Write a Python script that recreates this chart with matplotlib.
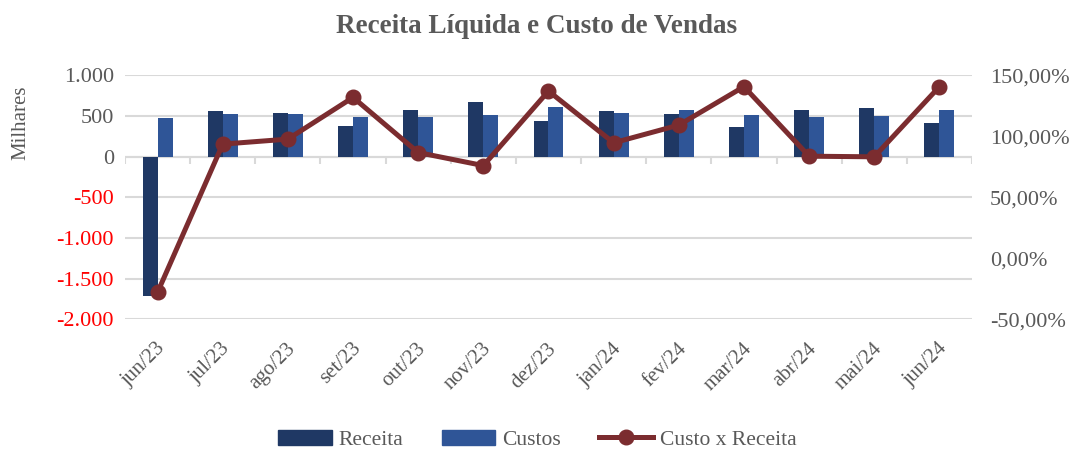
import numpy as np
import matplotlib.pyplot as plt
import matplotlib.transforms as mtransforms
from matplotlib.lines import Line2D
from matplotlib.patches import Patch

plt.rcParams['font.family'] = ['Liberation Serif', 'DejaVu Serif']

# dados (valores em milhares)
meses = ['jun/23', 'jul/23', 'ago/23', 'set/23', 'out/23', 'nov/23', 'dez/23',
         'jan/24', 'fev/24', 'mar/24', 'abr/24', 'mai/24', 'jun/24']
receita = [-1713, 561, 541, 373, 570, 672, 443, 557, 525, 369, 574, 598, 410]
custos = [471, 525, 529, 488, 492, 512, 607, 533, 574, 516, 488, 500, 574]
custo_x_receita = [-27.8, 93.6, 97.7, 131.9, 86.7, 76.0, 137.1, 94.7, 109.2, 140.7, 83.7, 83.2, 140.7]

cor_receita = '#1F3864'
cor_custos = '#2F5597'
cor_linha = '#7B2C2F'
cinza = '#595959'
grade = '#D9D9D9'

fig = plt.figure(figsize=(10.74, 4.51), dpi=100)
ax = fig.add_axes([0.1164, 0.292, 0.7886, 0.541])

x = np.arange(len(meses))
w = 0.23
ax.bar(x - w / 2, receita, w, color=cor_receita, zorder=3)
ax.bar(x + w / 2, custos, w, color=cor_custos, zorder=3)

ax.set_xlim(-0.5, len(meses) - 0.5)
ax.set_ylim(-2000, 1000)
yt = np.arange(-2000, 1001, 500)
ax.set_yticks(yt)
ax.set_yticklabels(['{:,.0f}'.format(v).replace(',', '.') for v in yt])
for lab, v in zip(ax.get_yticklabels(), yt):
    lab.set_color('red' if v < 0 else cinza)
ax.tick_params(axis='y', length=0, labelsize=16, pad=8)
ax.grid(axis='y', color=grade, linewidth=1.5, zorder=0)

# linha do zero com marcas entre categorias
ax.axhline(0, color=grade, linewidth=1.5, zorder=2)
ax.vlines(np.arange(len(meses) + 1) - 0.5, -85, 0, color=grade, linewidth=1.5, zorder=2)

ax.set_xticks(x)
ax.set_xticklabels(meses, rotation=45, ha='right', va='center', rotation_mode='anchor',
                   color=cinza, fontsize=15)
ax.tick_params(axis='x', length=0, pad=17)
desloc = mtransforms.ScaledTranslation(5 / 100, -3 / 100, fig.dpi_scale_trans)
for lab in ax.get_xticklabels():
    lab.set_transform(lab.get_transform() + desloc)
for s in ax.spines.values():
    s.set_visible(False)

ax2 = ax.twinx()
ax2.plot(x, custo_x_receita, color=cor_linha, linewidth=3.6, marker='o', markersize=10.5, zorder=4)
ax2.set_ylim(-50, 150)
pt = np.arange(-50, 151, 50)
ax2.set_yticks(pt)
ax2.set_yticklabels(['{:.2f}%'.format(v).replace('.', ',') for v in pt], color=cinza)
ax2.tick_params(axis='y', length=0, labelsize=16, pad=13)
for s in ax2.spines.values():
    s.set_visible(False)

fig.text(0.5, 0.942, 'Receita Líquida e Custo de Vendas', ha='center', va='center',
         fontsize=19.5, fontweight='bold', color=cinza)
fig.text(0.019, 0.727, 'Milhares', rotation=90, ha='center', va='center', fontsize=15, color=cinza)

handles = [Patch(color=cor_receita), Patch(color=cor_custos),
           Line2D([], [], color=cor_linha, linewidth=3.6, marker='o', markersize=10.5)]
fig.legend(handles, ['Receita', 'Custos', 'Custo x Receita'], loc='center',
           bbox_to_anchor=(0.5, 0.025), ncol=3, frameon=False, fontsize=15.5,
           labelcolor=cinza, handlelength=2.5, handletextpad=0.3, columnspacing=1.8)

fig.savefig('out.png', dpi=100)
